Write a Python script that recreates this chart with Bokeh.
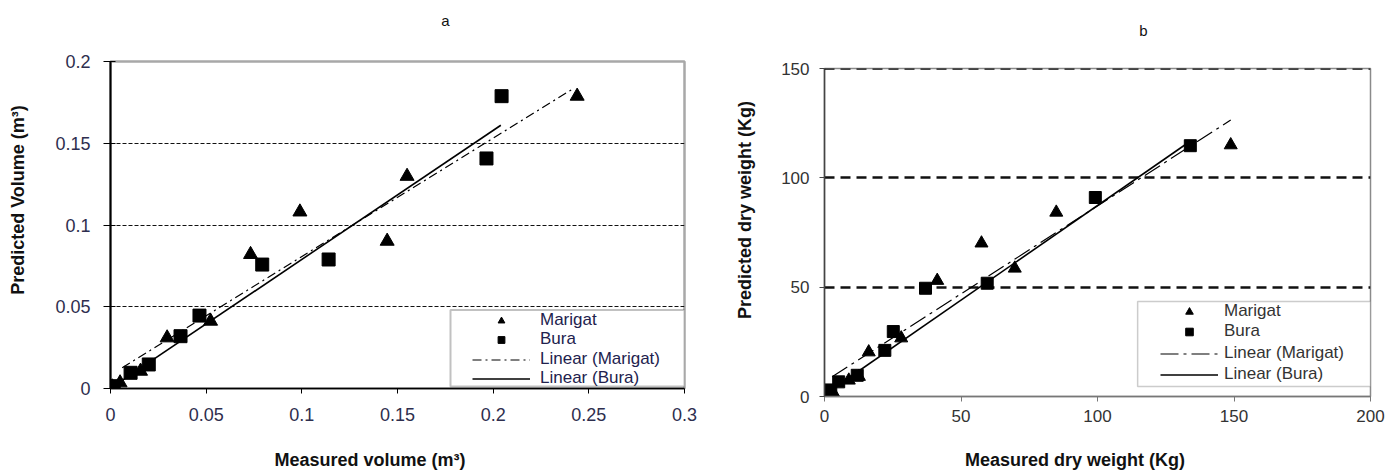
from bokeh.plotting import figure
from bokeh.models import (Range1d, FixedTicker, Legend, LegendItem, BoxAnnotation, Span, LinearAxis)
from bokeh.layouts import row, column
from bokeh.embed import file_html
from bokeh.resources import INLINE

FONT = "Liberation Sans"
NB = "\u00a0"

# ---------------- data: panel a (volume, m3) ----------------
a_mar_x = [0.2439, 0.155, 0.099, 0.1446, 0.0732, 0.0523, 0.0296, 0.0157, 0.005, 0.001]
a_mar_y = [0.1788, 0.1298, 0.108, 0.0901, 0.082, 0.0412, 0.031, 0.0106, 0.0035, 0.001]
a_bura_x = [0.2044, 0.1965, 0.114, 0.0793, 0.0465, 0.0366, 0.020, 0.0105, 0.0017, 0.001]
a_bura_y = [0.1788, 0.1407, 0.0789, 0.0758, 0.0446, 0.032, 0.0147, 0.0096, 0.0014, 0.001]
a_mar_fit_x = [0.0061, 0.2425]
a_mar_fit_y = [0.0127, 0.1839]
a_bura_fit_x = [0.0017, 0.204]
a_bura_fit_y = [0.0014, 0.161]
a_x_ticks = [0, 0.05, 0.1, 0.15, 0.2, 0.25, 0.3]
a_x_labels = ["0", "0.05", "0.1", "0.15", "0.2", "0.25", "0.3"]
a_y_ticks = [0, 0.05, 0.1, 0.15, 0.2]
a_y_labels = ["0", "0.05", "0.1", "0.15", "0.2"]

# ---------------- data: panel b (dry weight, kg) ----------------
b_mar_x = [148.8, 84.9, 57.5, 69.7, 41.3, 28.1, 16.2, 12.6, 8.9, 3.6, 1.1]
b_mar_y = [115.0, 84.2, 70.1, 58.6, 53.0, 26.7, 20.3, 9.1, 7.4, 0.8, 1.5]
b_bura_x = [134.0, 99.2, 59.6, 37.0, 25.2, 22.1, 12.0, 5.2, 2.3, 0.7]
b_bura_y = [114.7, 91.0, 51.8, 49.5, 29.7, 21.1, 9.7, 6.7, 3.0, 0.8]
b_mar_fit_x = [2.8, 148.8]
b_mar_fit_y = [9.0, 126.4]
b_bura_fit_x = [0.0, 133.7]
b_bura_fit_y = [0.8, 116.5]
b_x_ticks = [0, 50, 100, 150, 200]
b_y_ticks = [0, 50, 100, 150]

series_names = ["Marigat", "Bura", "Linear (Marigat)", "Linear (Bura)"]

H = 472


def text_axis(p, text, standoff, fs, style, place):
    ax = LinearAxis(axis_label=text, ticker=FixedTicker(ticks=[]),
                    axis_line_color=None, major_tick_line_color=None, minor_tick_line_color=None,
                    major_tick_in=0, major_tick_out=0, minor_tick_in=0, minor_tick_out=0,
                    major_label_text_font_size="0px", major_label_standoff=0,
                    axis_label_standoff=standoff, axis_label_text_font=FONT,
                    axis_label_text_font_size=fs, axis_label_text_font_style=style,
                    axis_label_text_color="#111111")
    p.add_layout(ax, place)


def make_panel(title, xlab, ylab, xr, yr, xt, yt, xlabels, ylabels,
               mx, my, bx, by, mfx, mfy, bfx, bfy, cfg):
    p = figure(width=cfg["width"], height=H, output_backend="svg", toolbar_location=None,
               title=None, x_range=Range1d(*xr), y_range=Range1d(*yr),
               min_border_left=cfg["bl"], min_border_right=cfg["br"],
               min_border_top=cfg["bt"], min_border_bottom=cfg["bb"])
    p.background_fill_color = "white"
    p.border_fill_color = "white"
    p.outline_line_color = cfg["outline"]
    p.outline_line_width = cfg["outline_w"]

    # axes
    for ax, ticks, labels in ((p.xaxis[0], xt, xlabels), (p.yaxis[0], yt, ylabels)):
        ax.ticker = FixedTicker(ticks=ticks)
        ax.major_label_overrides = {t: l for t, l in zip(ticks, labels)}
        ax.minor_tick_line_color = None
        ax.major_label_text_font = FONT
        ax.major_label_text_font_size = cfg["tick_fs"]
        ax.major_label_text_color = cfg["tick_col"]
    p.xaxis.axis_line_color = cfg["xaxis_col"]
    p.xaxis.axis_line_width = 1.5
    p.xaxis.major_tick_line_color = cfg["xaxis_col"]
    p.xaxis.major_tick_in = 0
    p.xaxis.major_tick_out = 5
    p.xaxis.major_label_standoff = cfg["x_standoff"]
    p.yaxis.axis_line_color = cfg["yaxis_col"]
    p.yaxis.axis_line_width = cfg["yaxis_w"]
    p.yaxis.major_tick_line_color = cfg["yaxis_col"]
    p.yaxis.major_tick_in = cfg["ytick_in"]
    p.yaxis.major_tick_out = cfg["ytick_out"]
    p.yaxis.major_label_standoff = cfg["y_standoff"]

    # panel letter and axis titles (label-only axes; no-break spaces shift them off-centre
    # the way the original is laid out)
    text_axis(p, NB * cfg["title_pad"] + title, cfg["title_standoff"], "15px", "normal", "above")
    text_axis(p, xlab + NB * cfg["xlab_pad"], cfg["xlab_standoff"], "18px", "bold", "below")
    text_axis(p, NB * cfg["ylab_pad"] + ylab, cfg["ylab_standoff"], "18px", "bold", "left")

    # grid
    p.xgrid.grid_line_color = None
    p.ygrid.ticker = FixedTicker(ticks=[t for t in yt if t != 0])
    p.ygrid.grid_line_color = "#111111"
    p.ygrid.grid_line_width = cfg["grid_w"]
    p.ygrid.grid_line_dash = cfg["grid_dash"]
    if cfg["top_span"]:
        p.add_layout(Span(location=yt[-1], dimension="width", line_color="#111111",
                          line_width=cfg["grid_w"], line_dash=cfg["grid_dash"]))

    # series
    r_m = p.scatter(mx, my, marker="triangle", size=cfg["tri"], color="black")
    r_b = p.scatter(bx, by, marker="square", size=cfg["sq"], color="black")
    r_mf = p.line(mfx, mfy, line_color="black", line_width=1.2, line_dash=cfg["dashdot"])
    r_bf = p.line(bfx, bfy, line_color="black", line_width=1.6)

    # legend frame
    box = BoxAnnotation(left=cfg["box"][0], right=cfg["box"][1], bottom=cfg["box"][2], top=cfg["box"][3],
                        fill_color="white", fill_alpha=1.0,
                        line_color=cfg["box_col"], line_width=cfg["box_w"])
    p.add_layout(box)

    # one legend per entry, so that the row pitch can follow the original
    for name, r, ly in zip(series_names, [r_m, r_b, r_mf, r_bf], cfg["leg_rows"]):
        leg = Legend(items=[LegendItem(label=name, renderers=[r])], location=(cfg["leg_x"], ly),
                     padding=0, margin=0, spacing=0,
                     glyph_width=58, glyph_height=cfg["row_h"], label_height=cfg["row_h"],
                     label_standoff=cfg["label_standoff"],
                     label_text_font=FONT, label_text_font_size=cfg["leg_fs"],
                     label_text_color=cfg["leg_col"], label_text_line_height=1.0,
                     border_line_alpha=0, background_fill_alpha=0)
        p.add_layout(leg, "center")
    return p


cfg_a = dict(width=708, bl=110, br=24, bt=61, bb=H - 389,
             outline="#a8a8a8", outline_w=2.5,
             title_pad=23, title_standoff=33,
             xlab_pad=11, xlab_standoff=26,
             ylab_pad=10, ylab_standoff=25,
             tick_fs="18px", tick_col="#2e2e4e", xaxis_col="#000000", yaxis_col="#000000", yaxis_w=2,
             ytick_in=5, ytick_out=7, x_standoff=14, y_standoff=13,
             grid_w=1.2, grid_dash="4 2", top_span=False, tri=14, sq=13, dashdot="9 4 2 4",
             box=(0.1777, 0.3, 0.0012, 0.048), box_col="#333333", box_w=2,
             leg_x=362, leg_rows=[58, 39, 19, 0], row_h=17, label_standoff=10, leg_fs="17px",
             leg_col="#22224e")

cfg_b = dict(width=677, bl=116, br=15, bt=68, bb=H - 398,
             outline="#8a8a8a", outline_w=1.5,
             title_pad=22, title_standoff=30,
             xlab_pad=9, xlab_standoff=25,
             ylab_pad=9, ylab_standoff=24,
             tick_fs="17px", tick_col="#333333", xaxis_col="#777777", yaxis_col="#444444", yaxis_w=1.5,
             ytick_in=0, ytick_out=5, x_standoff=8, y_standoff=10,
             grid_w=2.5, grid_dash="10 6", top_span=True, tri=13, sq=12, dashdot="18 5 3 5",
             box=(114.7, 200, 4.55, 43.4), box_col="#555555", box_w=1.5,
             leg_x=336, leg_rows=[75, 55, 33, 12], row_h=19, label_standoff=6, leg_fs="17px",
             leg_col="#333333")

pa = make_panel("a", "Measured volume (m³)", "Predicted Volume (m³)", (0, 0.3), (0, 0.2),
                a_x_ticks, a_y_ticks, a_x_labels, a_y_labels,
                a_mar_x, a_mar_y, a_bura_x, a_bura_y,
                a_mar_fit_x, a_mar_fit_y, a_bura_fit_x, a_bura_fit_y, cfg_a)

pb = make_panel("b", "Measured dry weight (Kg)", "Predicted dry weight (Kg)", (0, 200), (0, 150),
                b_x_ticks, b_y_ticks, [str(t) for t in b_x_ticks], [str(t) for t in b_y_ticks],
                b_mar_x, b_mar_y, b_bura_x, b_bura_y,
                b_mar_fit_x, b_mar_fit_y, b_bura_fit_x, b_bura_fit_y, cfg_b)

layout = row(column(pa), column(pb))
open("out.html", "w").write(file_html(layout, INLINE))
